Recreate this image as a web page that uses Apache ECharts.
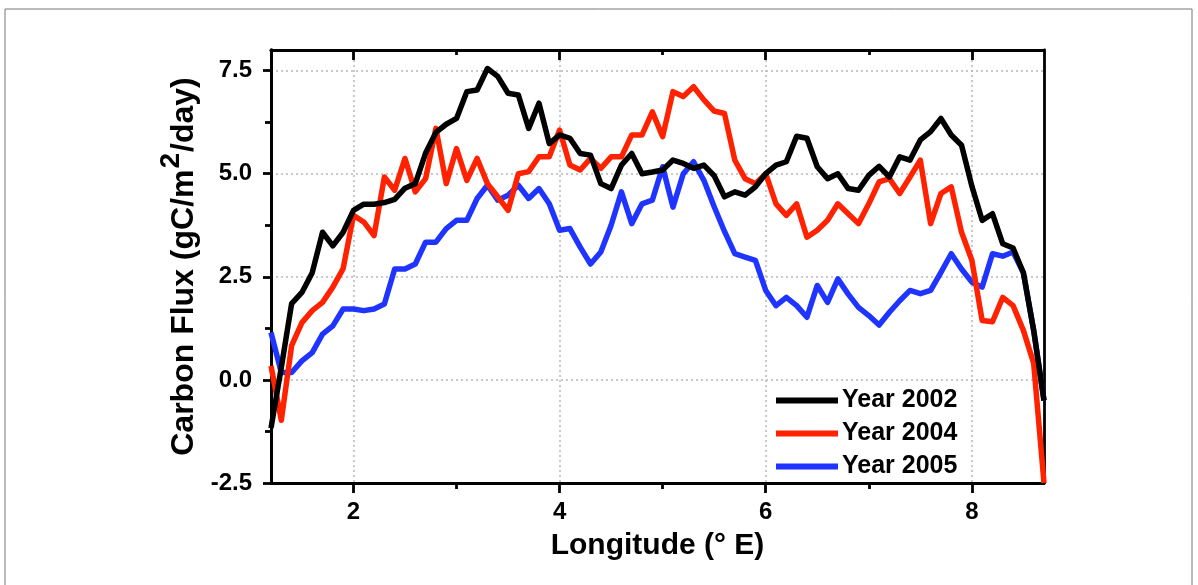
<!DOCTYPE html>
<html>
<head>
<meta charset="utf-8">
<script src="https://cdn.jsdelivr.net/npm/echarts@6/dist/echarts.min.js"></script>
<style>
html,body{margin:0;padding:0;background:#fff;}
#chart{width:1198px;height:585px;}
</style>
</head>
<body>
<div id="chart"></div>
<script>
// Longitude (° E)
const lon = [1.2,1.3,1.4,1.5,1.6,1.7,1.8,1.9,2.0,2.1,2.2,2.3,2.4,2.5,2.6,2.7,2.8,2.9,3.0,3.1,
  3.2,3.3,3.4,3.5,3.6,3.7,3.8,3.9,4.0,4.1,4.2,4.3,4.4,4.5,4.6,4.7,4.8,4.9,5.0,5.1,
  5.2,5.3,5.4,5.5,5.6,5.7,5.8,5.9,6.0,6.1,6.2,6.3,6.4,6.5,6.6,6.7,6.8,6.9,7.0,7.1,
  7.2,7.3,7.4,7.5,7.6,7.7,7.8,7.9,8.0,8.1,8.2,8.3,8.4,8.5,8.6,8.7];
// Carbon flux (gC/m2/day)
const year2002 = [-1.17,0.3,1.85,2.12,2.6,3.58,3.25,3.58,4.11,4.26,4.26,4.3,4.38,4.65,4.76,5.5,6.0,6.2,6.34,6.99,
  7.03,7.55,7.36,6.95,6.91,6.1,6.71,5.73,5.94,5.86,5.49,5.45,4.76,4.64,5.21,5.49,5.0,5.04,5.09,5.33,
  5.25,5.13,5.21,4.95,4.44,4.56,4.48,4.68,5.0,5.21,5.29,5.91,5.86,5.17,4.88,5.0,4.64,4.6,4.96,5.18,
  4.92,5.41,5.33,5.82,6.02,6.34,5.94,5.69,4.7,3.87,4.03,3.3,3.2,2.6,1.2,-0.5];
const year2004 = [0.34,-0.98,0.83,1.39,1.68,1.88,2.25,2.7,3.99,3.83,3.5,4.92,4.6,5.37,4.56,4.88,6.1,4.76,5.61,4.84,
  5.37,4.76,4.44,4.11,5.0,5.05,5.41,5.41,6.06,5.21,5.09,5.37,5.13,5.41,5.41,5.94,5.94,6.5,5.9,6.99,
  6.87,7.11,6.79,6.52,6.46,5.33,4.88,4.76,5.0,4.27,3.99,4.27,3.46,3.63,3.87,4.27,4.03,3.79,4.27,4.8,
  4.88,4.52,4.92,5.33,3.79,4.52,4.68,3.58,2.9,1.44,1.41,2.0,1.8,1.2,0.4,-2.5];
const year2005 = [1.15,0.18,0.18,0.46,0.66,1.11,1.31,1.72,1.72,1.68,1.72,1.84,2.69,2.69,2.81,3.34,3.34,3.67,3.87,3.87,
  4.4,4.72,4.36,4.48,4.72,4.4,4.64,4.27,3.63,3.67,3.22,2.81,3.1,3.75,4.56,3.79,4.27,4.36,5.17,4.19,
  5.0,5.29,4.84,4.2,3.6,3.06,2.98,2.9,2.17,1.8,2.0,1.8,1.52,2.29,1.88,2.45,2.08,1.76,1.56,1.33,
  1.64,1.92,2.17,2.09,2.17,2.61,3.06,2.69,2.37,2.25,3.06,3.0,3.1,2.6,1.2,-0.5];
const seriesNames = ['Year 2002','Year 2004','Year 2005'];
const xMajor = [2,4,6,8];
const xMinor = [3,5,7];
const yMajor = [-2.5,0,2.5,5,7.5];
const yMinor = [-1.25,1.25,3.75,6.25];

const FONT = '"Liberation Sans", Arial, sans-serif';
const chart = echarts.init(document.getElementById('chart'), null, {renderer:'canvas'});
const pair = arr => lon.map((x,i)=>[x,arr[i]]);
const lineW = 2.8;
const baseX = (extra) => Object.assign({
  type:'value', min:1.2, max:8.7, splitNumber:4,
  axisLine:{show:true, onZero:false, lineStyle:{color:'#000', width:lineW}},
  axisLabel:{show:false}, splitLine:{show:false}, axisTick:{show:false}
}, extra);
const baseY = (extra) => Object.assign({
  type:'value', min:-2.5, max:8, interval:2.5,
  axisLine:{show:true, onZero:false, lineStyle:{color:'#000', width:lineW}},
  axisLabel:{show:false}, splitLine:{show:false}, axisTick:{show:false}
}, extra);

const option = {
  animation:false,
  backgroundColor:'#fff',
  grid:{left:271, right:154, top:50, bottom:102, containLabel:false},
  graphic:[{type:'rect', shape:{x:5, y:9, width:1187, height:600}, style:{fill:'none', stroke:'#777', lineWidth:1}, silent:true}],
  legend:{
    orient:'vertical', left:771, top:383, itemGap:8,
    itemWidth:62, itemHeight:6,
    icon:'path://M0,0 L62,0 L62,6 L0,6 Z',
    textStyle:{fontFamily:FONT, fontWeight:'bold', fontSize:25, color:'#000', padding:[0,0,0,-1]},
    data:seriesNames
  },
  xAxis:[
    baseX({position:'bottom',
      name:'Longitude (° E)', nameLocation:'middle', nameGap:48,
      nameTextStyle:{fontFamily:FONT, fontWeight:'bold', fontSize:30, color:'#000'},
      axisTick:{show:true, inside:false, length:10, customValues:xMajor, lineStyle:{color:'#000', width:lineW}},
      axisLabel:{show:true, customValues:xMajor, margin:17, fontFamily:FONT, fontWeight:'bold', fontSize:24, color:'#000'},
      splitLine:{show:true, lineStyle:{color:'#b8b8b8', width:1.5, type:[2,3]}}
    }),
    baseX({position:'bottom',
      axisTick:{show:true, inside:false, length:6, customValues:xMinor, lineStyle:{color:'#000', width:lineW}}}),
    baseX({position:'top',
      axisTick:{show:true, inside:true, length:10, customValues:xMajor, lineStyle:{color:'#000', width:lineW}}}),
    baseX({position:'top',
      axisTick:{show:true, inside:true, length:5, customValues:xMinor, lineStyle:{color:'#000', width:lineW}}})
  ],
  yAxis:[
    baseY({position:'left',
      name:'{a|Carbon Flux (gC/m}{s|2}{a|/day)}', nameLocation:'middle', nameGap:64,
      nameTextStyle:{fontFamily:FONT, fontWeight:'bold', fontSize:32, color:'#000',
        rich:{a:{fontFamily:FONT, fontWeight:'bold', fontSize:32, color:'#000', verticalAlign:'bottom'},
              s:{fontFamily:FONT, fontWeight:'bold', fontSize:28, color:'#000', verticalAlign:'bottom', padding:[0,1,14,1]}}},
      axisTick:{show:true, inside:false, length:8, customValues:yMajor, lineStyle:{color:'#000', width:lineW}},
      axisLabel:{show:true, customValues:yMajor, margin:19, fontFamily:FONT, fontWeight:'bold', fontSize:24, color:'#000',
        formatter:v=>v.toFixed(1)},
      splitLine:{show:true, lineStyle:{color:'#b8b8b8', width:1.5, type:[2,3]}}
    }),
    baseY({position:'left',
      axisTick:{show:true, inside:false, length:6, customValues:yMinor, lineStyle:{color:'#000', width:lineW}}}),
    baseY({position:'right'})
  ],
  series:[
    {name:seriesNames[0], type:'line', data:pair(year2002), showSymbol:false, symbol:'none',
      lineStyle:{color:'#000000', width:5.5, join:'round'}, itemStyle:{color:'#000000'}, z:3},
    {name:seriesNames[1], type:'line', data:pair(year2004), showSymbol:false, symbol:'none',
      lineStyle:{color:'#ff2200', width:5.5, join:'round'}, itemStyle:{color:'#ff2200'}, z:2},
    {name:seriesNames[2], type:'line', data:pair(year2005), showSymbol:false, symbol:'none',
      lineStyle:{color:'#1f35ff', width:5.5, join:'round'}, itemStyle:{color:'#1f35ff'}, z:1}
  ]
};
chart.setOption(option);
</script>
</body>
</html>
